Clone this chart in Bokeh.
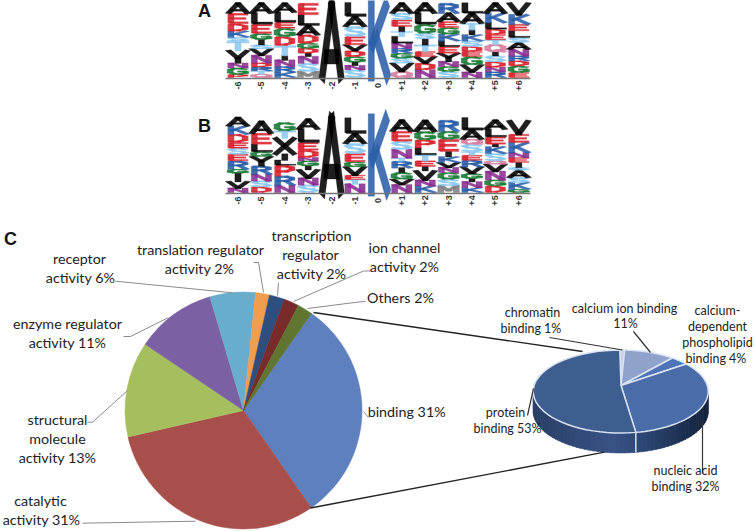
from math import sin, cos, radians, pi, hypot
from bokeh.plotting import figure
from bokeh.models import Range1d
from bokeh.core.properties import value
from bokeh.embed import file_html
from bokeh.resources import INLINE

# ---------- data ----------
positions = ["-6", "-5", "-4", "-3", "-2", "-1", "0", "+1", "+2", "+3", "+4", "+5", "+6"]

# Sequence logos: letters of each column from top to bottom, with their stack heights
logo_a_letters = ["AEDKSTVINGP", "ALEGISVNDRTQ", "ALEGDTINRK", "ELADGDINSM", "A", "LASEVDGINS", "K",
                  "ASEITLNRGSVQ", "ALGSITEVDN", "RAEGKLEYNGS", "LATIKSDEGVN", "AKLDETQISDNR", "VKELSANRDGE"]
logo_a_heights = [[30, 32, 22, 18, 12, 28, 24, 14, 14, 20, 9],
                  [30, 33, 28, 18, 16, 12, 20, 22, 12, 12, 10, 10],
                  [27, 30, 18, 25, 27, 30, 14, 19, 17, 16],
                  [35, 32, 28, 25, 15, 15, 10, 20, 25, 18],
                  [223],
                  [40, 30, 30, 25, 18, 17, 17, 10, 13, 23],
                  [223],
                  [30, 20, 20, 15, 15, 20, 15, 15, 15, 15, 25, 18],
                  [30, 33, 27, 17, 18, 20, 15, 20, 20, 23],
                  [30, 25, 18, 20, 20, 17, 20, 25, 15, 15, 18],
                  [30, 30, 20, 15, 18, 17, 15, 15, 25, 22, 16],
                  [30, 28, 20, 16, 16, 14, 22, 12, 18, 16, 14, 17],
                  [35, 28, 20, 20, 15, 20, 20, 15, 15, 20, 15]]
logo_b_letters = ["AKDESERGIVN", "AELGYRNSD", "GTXILPRN", "ALEDNGIVNS", "A", "LASEGVETN", "K",
                  "AESNTRIGVN", "AGPLTEIVNK", "RGEIKVNGSM", "LAQSTERVGINK", "ALEIKSQVNGD", "VEKNEISASKG"]
logo_b_heights = [[25, 25, 25, 17, 18, 20, 25, 12, 25, 20, 13],
                  [35, 33, 23, 14, 28, 25, 20, 18, 17],
                  [25, 22, 48, 18, 15, 32, 28, 22],
                  [30, 40, 23, 22, 10, 15, 12, 25, 20, 23],
                  [225],
                  [45, 30, 30, 25, 15, 25, 13, 14, 25],
                  [225],
                  [33, 30, 25, 25, 10, 20, 14, 20, 17, 23],
                  [33, 25, 23, 22, 18, 17, 13, 28, 17, 20],
                  [33, 24, 37, 16, 17, 15, 15, 20, 20, 20],
                  [36, 27, 15, 23, 10, 15, 20, 20, 15, 10, 17, 15],
                  [27, 23, 22, 8, 20, 22, 10, 22, 25, 18, 20],
                  [40, 25, 30, 15, 15, 15, 8, 22, 15, 20, 10]]

# Left pie, clockwise from binding
left_names = ["binding", "catalytic", "structural", "enzyme", "receptor",
              "translation", "transcription", "ion channel", "others"]
left_shares = [30.6, 31.1, 13.0, 11.0, 6.2, 1.9, 2.1, 2.05, 2.05]
left_colors = ["#5F80BE", "#A94F4B", "#A6BF5E", "#7B60A4", "#69ADCC", "#F09D4F", "#2F4E80", "#772C2A", "#5F7530"]

# Right 3-D pie, clockwise from chromatin
right_names = ["chromatin", "calcium ion", "calcium-dependent", "nucleic acid", "protein"]
right_shares = [0.9, 9.3, 3.4, 33.8, 52.6]
right_colors = ["#C7D2E6", "#8EA2CC", "#4F75B8", "#4A6CA8", "#3F5E90"]

# Text lines: text, x, y in the picture's pixels
left_labels = [("receptor", 79, 258), ("activity 6%", 80, 277),
               ("translation regulator", 200, 249), ("activity 2%", 199, 268),
               ("transcription", 311, 235), ("regulator", 310, 254), ("activity 2%", 311, 273),
               ("ion channel", 404, 247), ("activity 2%", 404, 266), ("Others 2%", 400, 297),
               ("enzyme regulator", 67, 323), ("activity 11%", 67, 342),
               ("structural", 57, 419), ("molecule", 57, 438), ("activity 13%", 57, 457),
               ("catalytic", 40, 500), ("activity 31%", 41, 519), ("binding  31%", 408, 411)]
right_labels = [("chromatin", 532, 312), ("binding  1%", 532, 328),
                ("calcium ion binding", 624, 308), ("11%", 625, 323),
                ("calcium-", 717, 310), ("dependent", 717, 326), ("phospholipid", 717, 342), ("binding  4%", 717, 358),
                ("protein", 505, 412), ("binding 53%", 507, 428),
                ("nucleic acid", 685, 470), ("binding 32%", 685, 486)]

# ---------- styles and helpers ----------
LETTER_COLORS = {"A": "#000000", "L": "#000000", "V": "#000000", "I": "#000000", "Y": "#000000", "X": "#000000",
                 "E": "#D8222F", "D": "#D8222F", "P": "#D8222F", "K": "#2A5EA8", "R": "#2A5EA8",
                 "S": "#8CC8F0", "T": "#8CC8F0", "G": "#1D7D3A", "N": "#8A2F90", "Q": "#D77FA0", "M": "#808080"}
# Logo letters are stretched to their stack height, which a text glyph cannot do, so they are drawn as strokes
STROKES = {
    "A": [[(.07, 0), (.5, 1), (.93, 0)], [(.22, .28), (.78, .28)]],
    "L": [[(.17, 1), (.17, .1), (.95, .1)]],
    "K": [[(.17, 0), (.17, 1)], [(.88, 1), (.2, .42)], [(.4, .55), (.93, 0)]],
    "E": [[(.9, .9), (.17, .9), (.17, .1), (.9, .1)], [(.17, .5), (.8, .5)]],
    "D": [[(.17, .1), (.17, .9), (.55, .9), (.83, .7), (.83, .3), (.55, .1), (.17, .1)]],
    "R": [[(.17, 0), (.17, .9), (.6, .9), (.83, .78), (.83, .6), (.6, .46), (.17, .46)], [(.55, .46), (.88, 0)]],
    "S": [[(.86, .78), (.65, .9), (.3, .9), (.14, .75), (.3, .55), (.7, .45), (.86, .25), (.7, .1), (.3, .1), (.12, .2)]],
    "T": [[(.05, .9), (.95, .9)], [(.5, .9), (.5, 0)]],
    "V": [[(.07, 1), (.5, 0), (.93, 1)]],
    "I": [[(.5, 0), (.5, 1)]],
    "G": [[(.86, .78), (.65, .9), (.3, .9), (.14, .7), (.14, .3), (.3, .1), (.65, .1), (.86, .2), (.86, .45), (.55, .45)]],
    "N": [[(.17, 0), (.17, 1), (.83, 0), (.83, 1)]],
    "Q": [[(.3, .9), (.7, .9), (.86, .7), (.86, .3), (.7, .1), (.3, .1), (.14, .3), (.14, .7), (.3, .9)], [(.55, .3), (.93, 0)]],
    "P": [[(.17, 0), (.17, .9), (.6, .9), (.83, .78), (.83, .58), (.6, .42), (.17, .42)]],
    "Y": [[(.07, 1), (.5, .45), (.93, 1)], [(.5, .45), (.5, 0)]],
    "X": [[(.07, 1), (.93, 0)], [(.93, 1), (.07, 0)]],
    "M": [[(.14, 0), (.14, 1), (.5, .25), (.86, 1), (.86, 0)]],
}


def Y(py):
    return 531 - py


p = figure(width=754, height=531, output_backend="svg", toolbar_location=None,
           x_range=Range1d(0, 754), y_range=Range1d(0, 531), min_border=0,
           x_axis_type=None, y_axis_type=None)
p.grid.visible = False
p.outline_line_color = None
p.background_fill_color = "white"


def letter_quads(ch, x0, y0, w, h):
    wx, wy = 0.145, 0.1
    out = []
    for stroke in STROKES[ch]:
        for (ax, ay), (bx, by) in zip(stroke, stroke[1:]):
            dx, dy = bx - ax, by - ay
            n = hypot(dx, dy)
            nx, ny = -dy / n * wx, dx / n * wy
            ex, ey = dx / n * wx * .5, dy / n * wy * .5
            ax2, ay2, bx2, by2 = ax - ex, ay - ey, bx + ex, by + ey
            pts = [(ax2 + nx, ay2 + ny), (bx2 + nx, by2 + ny), (bx2 - nx, by2 - ny), (ax2 - nx, ay2 - ny)]
            out.append(([x0 + px * w for px, _ in pts], [y0 + py * h for _, py in pts]))
    return out


def draw_logo(letters, heights, baseline_px, scale, label_px):
    first, step, width = 237.5, 23.4, 21.5
    xs, ys, colors = [], [], []
    for i, (col, hs) in enumerate(zip(letters, heights)):
        base = Y(baseline_px)
        x0 = first + step * i - width / 2
        for ch, hv in zip(reversed(col), reversed(hs)):
            h = hv * scale
            for qx, qy in letter_quads(ch, x0, base, width, h):
                xs.append(qx)
                ys.append(qy)
                colors.append(LETTER_COLORS[ch])
            base += h
    p.patches(xs, ys, fill_color=colors, line_color=colors, line_width=0.3, fill_alpha=0.88, line_alpha=0.88)
    p.line([225, 530], [Y(baseline_px + 1)] * 2, line_color="#777777", line_width=1.5)
    p.text([first + step * i for i in range(len(positions))], [Y(label_px)] * len(positions), text=positions,
           angle=pi / 2, text_align="center", text_baseline="middle", text_font_size="9px",
           text_font=value("Liberation Sans"), text_color="#333333", text_font_style="bold")


draw_logo(logo_a_letters, logo_a_heights, 77, 1 / 3, 85)
draw_logo(logo_b_letters, logo_b_heights, 192, 1 / 3, 200)

# Left pie
cx, cy, r = 243, Y(410), 118.5
angle = 35.0
total = sum(left_shares)
for share, color in zip(left_shares, left_colors):
    sweep = share / total * 360
    p.wedge(cx, cy, r, radians(90 - angle), radians(90 - angle - sweep), direction="clock",
            fill_color=color, line_color=color, line_width=0.5)
    angle += sweep

# Right pie: side wall, then top
ex, ey, rx, ry, depth = 620.2, Y(391), 87.5, 41.5, 20
apex = (620.5, Y(385))


def on_ellipse(a):
    return ex + rx * sin(radians(a)), ey + ry * cos(radians(a))


def mix(t):
    stops = [(0, (42, 63, 102)), (.45, (56, 84, 134)), (.62, (46, 72, 118)), (1, (20, 35, 60))]
    for (t0, c0), (t1, c1) in zip(stops, stops[1:]):
        if t <= t1:
            f = (t - t0) / (t1 - t0)
            return "#%02x%02x%02x" % tuple(int(c0[k] + (c1[k] - c0[k]) * f) for k in range(3))
    return "#14233c"


sx, sy, sc = [], [], []
a = 90.0
while a < 270:
    x1, y1 = on_ellipse(a)
    x2, y2 = on_ellipse(a + 3.5)
    sx.append([x1, x2, x2, x1])
    sy.append([y1, y2, y2 - depth, y1 - depth])
    sc.append(mix(((x1 + x2) / 2 - (ex - rx)) / (2 * rx)))
    a += 3
p.patches(sx, sy, fill_color=sc, line_color=sc, line_width=0.5)

angle = -0.6
total = sum(right_shares)
for i, (share, color) in enumerate(zip(right_shares, right_colors)):
    sweep = share / total * 360
    arc = [on_ellipse(angle + sweep * k / 40) for k in range(41)]
    if i == 3:
        ax_, ay_ = arc[-1]
        p.line([ax_, ax_], [ay_, ay_ - depth], line_color="#D8E2F0", line_width=1.5)
    p.patch([apex[0]] + [q[0] for q in arc], [apex[1]] + [q[1] for q in arc],
            fill_color=color, line_color="#D8E2F0", line_width=1.5)
    angle += sweep

# Zoom connectors and leader lines (picture pixels)
connectors = [[(313, 312), (582, 351)], [(310, 507.5), (604, 451.7)]]
grey_leaders = [[(82, 522.7), (195, 520.7)], [(87, 421.7), (92, 421.7), (127, 390)],
                [(123, 336), (130, 336), (168, 317)], [(115, 280.7), (232, 292.3)],
                [(253, 262), (258, 262), (263, 292)], [(278, 282), (277, 295)],
                [(370, 270.5), (363, 270.5), (293, 301)], [(365, 301), (358, 301.5), (307, 308)],
                [(363, 411), (368, 417)]]
dark_leaders = [[(549, 337), (622, 349.5)], [(633, 331), (650, 352)], [(533, 388), (527, 415)], [(702, 420), (702, 473)]]
for lines, color, lw in [(connectors, "#222222", 1.3), (grey_leaders, "#8A8A8A", 1.0), (dark_leaders, "#333333", 1.2)]:
    p.multi_line([[q[0] for q in l] for l in lines], [[Y(q[1]) for q in l] for l in lines],
                 line_color=color, line_width=lw)

# Text
for labels, size in [(left_labels, "14.3px"), (right_labels, "12.5px")]:
    p.text([t[1] for t in labels], [Y(t[2]) for t in labels], text=[t[0] for t in labels],
           text_align="center", text_baseline="middle", text_font=value("Lato"),
           text_font_size=size, text_color="#222222")

panels = [("A", 204, 10), ("B", 204, 125), ("C", 10, 238)]
p.text([t[1] for t in panels], [Y(t[2]) for t in panels], text=[t[0] for t in panels],
       text_align="center", text_baseline="middle", text_font=value("Liberation Sans"),
       text_font_size="18px", text_font_style="bold", text_color="#111111")

open("out.html", "w").write(file_html(p, INLINE))
